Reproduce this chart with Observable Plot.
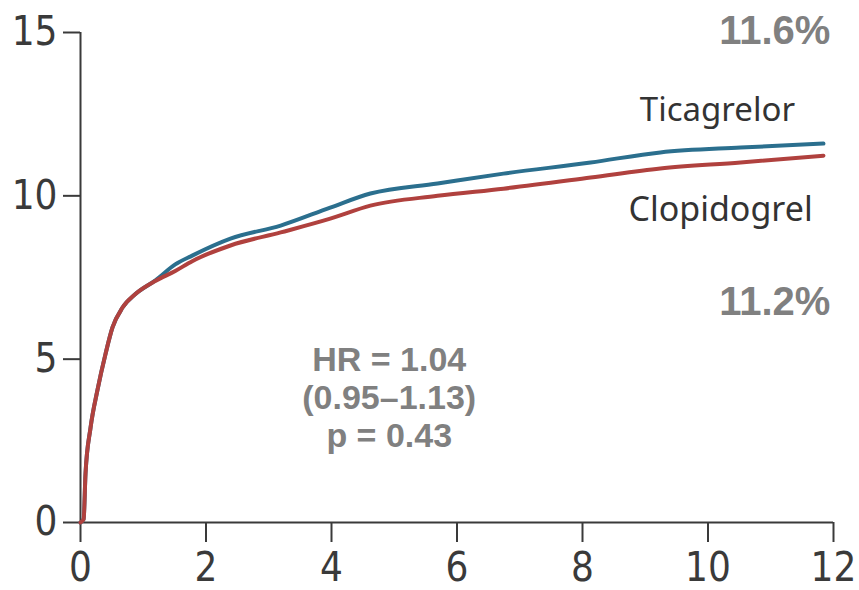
<!DOCTYPE html>
<html>
<head>
<meta charset="utf-8">
<script src="https://cdn.jsdelivr.net/npm/d3@7"></script>
<script src="https://cdn.jsdelivr.net/npm/@observablehq/plot@0.6"></script>
<style>
  html, body { margin: 0; padding: 0; background: #fff; }
</style>
</head>
<body>
<div id="chart"></div>
<script>
// Months since randomization
const months = [0, 0.05, 0.08, 0.16, 0.27, 0.40, 0.51, 0.67, 0.88, 1.2, 1.51, 1.78, 2.39, 3.19, 3.98, 4.62, 5.69, 6.74, 8.13, 9.24, 10.52, 11.84];
// Cumulative event rate (%)
const ticagrelor = [0, 0.1, 1.5, 2.9, 4.05, 5.17, 5.97, 6.58, 7.0, 7.42, 7.9, 8.17, 8.69, 9.09, 9.64, 10.07, 10.38, 10.68, 11.02, 11.33, 11.48, 11.6];
const clopidogrel = [0, 0.1, 1.5, 2.9, 4.05, 5.17, 5.97, 6.58, 7.0, 7.4, 7.7, 8.0, 8.48, 8.88, 9.3, 9.7, 10.0, 10.22, 10.56, 10.84, 11.02, 11.23];
const xTicks = [0, 2, 4, 6, 8, 10, 12];
const yTicks = [0, 5, 10, 15];
const seriesNames = ["Ticagrelor", "Clopidogrel"];
const endLabels = ["11.6%", "11.2%"];
const statLines = ["HR = 1.04", "(0.95\u20131.13)", "p = 0.43"];

const tica = months.map((m, i) => ({month: m, rate: ticagrelor[i]}));
const clop = months.map((m, i) => ({month: m, rate: clopidogrel[i]}));

const axisFont = '"Liberation Sans Narrow", "DejaVu Sans Condensed", sans-serif';
const labelFont = '"Noto Sans", "Open Sans", sans-serif';
const boldFont = '"Liberation Sans", Arial, sans-serif';
const grey = "#808080";

const chart = Plot.plot({
  width: 859,
  height: 590,
  marginLeft: 80,
  marginRight: 26,
  marginTop: 32,
  marginBottom: 68,
  style: {fontFamily: axisFont, background: "#fff", overflow: "visible"},
  x: {domain: [0, 12]},
  y: {domain: [0, 15]},
  marks: [
    Plot.axisX({ticks: xTicks, tickSize: 20, tickPadding: 10, fontSize: 40, color: "#3a3a3a", strokeWidth: 2, label: null}),
    Plot.axisY({ticks: yTicks, tickSize: 17, tickPadding: 6, fontSize: 40, color: "#3a3a3a", strokeWidth: 2, label: null}),
    Plot.ruleX([0], {y1: 0, y2: 15, stroke: "#3a3a3a", strokeWidth: 2}),
    Plot.ruleY([0], {x1: 0, x2: 12, stroke: "#3a3a3a", strokeWidth: 2}),
    Plot.line(tica, {x: "month", y: "rate", stroke: "#2b6f8e", strokeWidth: 4, curve: "monotone-x"}),
    Plot.line(clop, {x: "month", y: "rate", stroke: "#b0413e", strokeWidth: 4, curve: "monotone-x"}),
    Plot.text([seriesNames[0]], {x: 10.15, y: 12.3, text: d => d, lineAnchor: "bottom", fontSize: 33, fill: "#333", fontFamily: labelFont}),
    Plot.text([seriesNames[1]], {x: 10.2, y: 9.24, text: d => d, lineAnchor: "bottom", fontSize: 34, fill: "#333", fontFamily: labelFont}),
    Plot.text([endLabels[0]], {x: 11.95, y: 14.66, text: d => d, textAnchor: "end", lineAnchor: "bottom", fontSize: 40, fontWeight: "bold", fill: grey, fontFamily: boldFont}),
    Plot.text([endLabels[1]], {x: 11.95, y: 6.34, text: d => d, textAnchor: "end", lineAnchor: "bottom", fontSize: 40, fontWeight: "bold", fill: grey, fontFamily: boldFont}),
    Plot.text([statLines.join("\n")], {x: 4.92, y: 5.46, text: d => d, lineAnchor: "top", lineHeight: 1.12, fontSize: 34, fontWeight: "bold", fill: grey, fontFamily: boldFont})
  ]
});
document.getElementById("chart").appendChild(chart);
</script>
</body>
</html>
